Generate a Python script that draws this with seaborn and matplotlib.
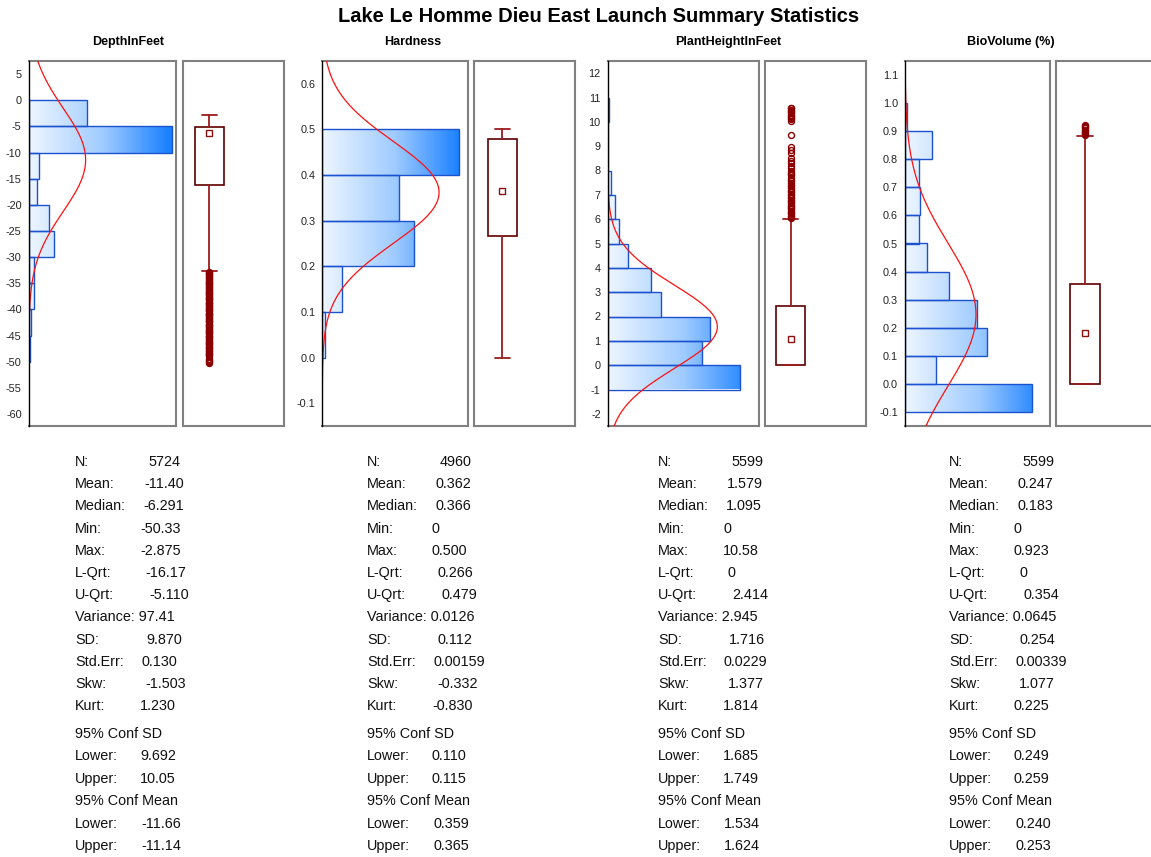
import numpy as np
import pandas as pd
import matplotlib
matplotlib.use("Agg")
import matplotlib.pyplot as plt
from matplotlib.colors import LinearSegmentedColormap
import seaborn as sns

sns.set_theme(style="white")
plt.rcParams["font.family"] = ["Liberation Sans", "DejaVu Sans"]
plt.rcParams["axes.unicode_minus"] = False
plt.rcParams["text.color"] = "black"

TITLE = "Lake Le Homme Dieu East Launch Summary Statistics"
variables = ["DepthInFeet", "Hardness", "PlantHeightInFeet", "BioVolume (%)"]

# ---- histogram bins (edges bottom -> top) and counts per bin ----
depth_edges = [-50, -45, -40, -35, -30, -25, -20, -15, -10, -5, 0]
depth_counts = [28, 54, 108, 115, 522, 420, 177, 210, 2910, 1180]

hard_edges = [0.0, 0.1, 0.2, 0.3, 0.4, 0.5]
hard_counts = [48, 297, 1385, 1165, 2065]

plant_edges = [-1, 0, 1, 2, 3, 4, 5, 6, 7, 8, 9, 10, 11]
plant_counts = [1566, 1116, 1219, 629, 519, 245, 139, 91, 44, 6, 2, 21]

bio_edges = [-0.1, 0.0, 0.1, 0.2, 0.3, 0.4, 0.5, 0.6, 0.7, 0.8, 0.9, 1.0]
bio_counts = [1575, 390, 1022, 894, 547, 277, 179, 180, 175, 335, 25]

# ---- summary statistics as printed ----
stat_labels = ["N:", "Mean:", "Median:", "Min:", "Max:", "L-Qrt:", "U-Qrt:",
               "Variance:", "SD:", "Std.Err:", "Skw:", "Kurt:"]
ci_sd_labels = ["Lower:", "Upper:"]
ci_mean_labels = ["Lower:", "Upper:"]

depth_stats = ["5724", "-11.40", "-6.291", "-50.33", "-2.875", "-16.17", "-5.110",
               "97.41", "9.870", "0.130", "-1.503", "1.230"]
hard_stats = ["4960", "0.362", "0.366", "0", "0.500", "0.266", "0.479",
              "0.0126", "0.112", "0.00159", "-0.332", "-0.830"]
plant_stats = ["5599", "1.579", "1.095", "0", "10.58", "0", "2.414",
               "2.945", "1.716", "0.0229", "1.377", "1.814"]
bio_stats = ["5599", "0.247", "0.183", "0", "0.923", "0", "0.354",
             "0.0645", "0.254", "0.00339", "1.077", "0.225"]

depth_ci_sd = ["9.692", "10.05"]
hard_ci_sd = ["0.110", "0.115"]
plant_ci_sd = ["1.685", "1.749"]
bio_ci_sd = ["0.249", "0.259"]

depth_ci_mean = ["-11.66", "-11.14"]
hard_ci_mean = ["0.359", "0.365"]
plant_ci_mean = ["1.534", "1.624"]
bio_ci_mean = ["0.240", "0.253"]

# ---- whisker ends and outlying observations ----
depth_whiskers = [-32.7, -2.875]
hard_whiskers = [0.0, 0.5]
plant_whiskers = [0.0, 6.0]
bio_whiskers = [0.0, 0.884]

depth_outliers = [-32.8, -33.0, -33.1, -33.3, -33.5, -33.6, -33.8, -34.0, -34.2, -34.3,
                  -34.5, -34.7, -34.9, -35.0, -35.2, -35.4, -35.5, -35.7, -35.9, -36.1,
                  -36.2, -36.4, -36.6, -36.8, -36.9, -37.1, -37.3, -37.4, -37.6, -37.8,
                  -38.0, -38.1, -38.3, -38.5, -38.7, -38.8, -39.0, -39.2, -39.4, -39.5,
                  -39.7, -39.9, -40.1, -40.2, -40.4, -40.6, -40.8, -40.9, -41.1, -41.3,
                  -41.5, -41.6, -41.8, -42.0, -42.2, -42.3, -42.5, -42.7, -42.9, -43.0,
                  -43.2, -43.4, -43.6, -43.7, -43.9, -44.1, -44.3, -44.4, -44.6, -44.8,
                  -45.0, -45.1, -45.3, -45.5, -45.7, -45.8, -46.0, -46.2, -46.4, -46.5,
                  -46.7, -46.9, -47.1, -47.2, -47.4, -47.6, -47.8, -47.9, -48.1, -48.3,
                  -48.5, -48.6, -48.8, -49.0, -49.5, -49.7, -49.9, -50.1, -50.33]
hard_outliers = []
plant_outliers = [6.05, 6.1, 6.15, 6.2, 6.25, 6.3, 6.35, 6.4, 6.45, 6.5, 6.55, 6.6, 6.65,
                  6.7, 6.75, 6.8, 6.85, 6.9, 7.0, 7.05, 7.1, 7.15, 7.2, 7.3, 7.35, 7.4,
                  7.5, 7.55, 7.6, 7.7, 7.8, 7.85, 7.9, 8.0, 8.1, 8.2, 8.3, 8.4, 8.5,
                  8.7, 8.85, 8.95, 9.45,
                  10.05, 10.1, 10.15, 10.2, 10.25, 10.3, 10.35, 10.4, 10.45, 10.5, 10.55, 10.58]
bio_outliers = [0.886, 0.89, 0.894, 0.898, 0.902, 0.906, 0.91, 0.914, 0.918, 0.923]

# ---- axis ranges / ticks ----
y_limits = [(-62.3, 7.5), (-0.15, 0.65), (-2.5, 12.5), (-0.15, 1.15)]
x_limits = [3000, 2200, 1800, 1800]
y_ticks = [list(range(-60, 6, 5)),
           [-0.1, 0.0, 0.1, 0.2, 0.3, 0.4, 0.5, 0.6],
           list(range(-2, 13)),
           [-0.1, 0.0, 0.1, 0.2, 0.3, 0.4, 0.5, 0.6, 0.7, 0.8, 0.9, 1.0, 1.1]]
tick_fmt = ["{:.0f}", "{:.1f}", "{:.0f}", "{:.1f}"]

edges_all = [depth_edges, hard_edges, plant_edges, bio_edges]
counts_all = [depth_counts, hard_counts, plant_counts, bio_counts]
stats_all = [depth_stats, hard_stats, plant_stats, bio_stats]
ci_sd_all = [depth_ci_sd, hard_ci_sd, plant_ci_sd, bio_ci_sd]
ci_mean_all = [depth_ci_mean, hard_ci_mean, plant_ci_mean, bio_ci_mean]
whiskers_all = [depth_whiskers, hard_whiskers, plant_whiskers, bio_whiskers]
outliers_all = [depth_outliers, hard_outliers, plant_outliers, bio_outliers]

# ---- layout (pixels) ----
W, H = 1151, 857
AX_TOP, AX_BOT = 61, 426
hist_x = [(28.7, 176.3), (322.3, 467.7), (607.7, 759.3), (905.0, 1050.3)]
box_x = [(183.0, 284.0), (474.0, 575.0), (765.3, 866.3), (1055.7, 1156.7)]
box_pos = [0.26, 0.28, 0.25, 0.29]
subtitle_x = [128.5, 412.5, 728.5, 1010.5]
label_x = [75, 367, 658, 949]
value_off = [73, 69, 68, 65, 65, 70, 74, None, 71, 66, 70, 65]

BLUE_EDGE = "#1b52cf"
CURVE = "#ff1010"
BOX_DARK = "#5e0000"
BOX_RED = "#9c1c1c"
SPINE = "#808080"
FS = 10.4
TXT = "#111111"

grad_cmap = LinearSegmentedColormap.from_list("bluefade", ["#eef6ff", "#9fcbff", "#0a78ff"])
gradient = np.linspace(0, 1, 256).reshape(1, -1)


def axes_rect(x0, x1):
    return [x0 / W, 1 - AX_BOT / H, (x1 - x0) / W, (AX_BOT - AX_TOP) / H]


def fx(x):
    return x / W


def fy(y):
    return 1 - y / H


def put(x, y, s, **kw):
    fig.text(fx(x), fy(y), s, ha="left", va="center", fontsize=FS, color=TXT, **kw)


fig = plt.figure(figsize=(W / 100, H / 100), dpi=100)
fig.patch.set_facecolor("white")

fig.text(fx(598.5), fy(17), TITLE, ha="center", va="center",
         fontsize=14.5, fontweight="bold", color="black")

for i, name in enumerate(variables):
    edges = [float(e) for e in edges_all[i]]
    counts = [float(c) for c in counts_all[i]]
    centers = [(a + b) / 2 for a, b in zip(edges[:-1], edges[1:])]
    bins_df = pd.DataFrame({"value": centers, "count": counts})
    stats = stats_all[i]
    n_obs = float(stats[0])
    mean = float(stats[1])
    median = float(stats[2])
    q1 = float(stats[5])
    q3 = float(stats[6])
    sd = float(stats[8])
    ylo, yhi = y_limits[i]
    xmax = x_limits[i]

    # histogram of bin counts, horizontal bars
    axh = fig.add_axes(axes_rect(*hist_x[i]))
    sns.histplot(data=bins_df, y="value", weights="count", bins=edges, ax=axh,
                 stat="count", edgecolor=BLUE_EDGE, linewidth=1.0, color="#66aaff")
    bars = list(axh.patches)
    for p in bars:
        p.set_facecolor("none")
        p.set_alpha(None)
        p.set_edgecolor(BLUE_EDGE)
        p.set_zorder(3)
        im = axh.imshow(gradient, cmap=grad_cmap, extent=(0, xmax, ylo, yhi),
                        aspect="auto", origin="lower", interpolation="bilinear", zorder=2)
        im.set_clip_path(p)

    # fitted normal curve scaled to counts
    bw = edges[1] - edges[0]
    yy = np.linspace(ylo, yhi, 600)
    pdf = np.exp(-0.5 * ((yy - mean) / sd) ** 2) / (sd * np.sqrt(2 * np.pi))
    axh.plot(n_obs * bw * pdf, yy, color=CURVE, linewidth=0.9, zorder=4)

    axh.set_xlim(0, xmax)
    axh.set_ylim(ylo, yhi)
    axh.set_xticks([])
    axh.set_yticks(y_ticks[i])
    axh.set_yticklabels([tick_fmt[i].format(t) for t in y_ticks[i]])
    axh.tick_params(axis="y", length=0, pad=5, labelsize=7.8, labelcolor="#222222")
    axh.set_xlabel("")
    axh.set_ylabel("")
    for side in ["top", "right", "bottom"]:
        axh.spines[side].set_color(SPINE)
        axh.spines[side].set_linewidth(1.5)
    axh.spines["left"].set_color("black")
    axh.spines["left"].set_linewidth(1.0)
    axh.spines["left"].set_zorder(5)

    # box plot from the printed quartiles
    axb = fig.add_axes(axes_rect(*box_x[i]))
    box_stats = [dict(med=median, q1=q1, q3=q3,
                      whislo=whiskers_all[i][0], whishi=whiskers_all[i][1],
                      fliers=np.asarray(outliers_all[i], dtype=float))]
    axb.bxp(box_stats, positions=[box_pos[i]], widths=0.29, capwidths=0.15,
            showfliers=True, patch_artist=True, manage_ticks=False,
            boxprops=dict(facecolor="white", edgecolor=BOX_DARK, linewidth=1.2),
            whiskerprops=dict(color=BOX_RED, linewidth=1.3),
            capprops=dict(color=BOX_RED, linewidth=1.3),
            medianprops=dict(linewidth=0),
            flierprops=dict(marker="o", markersize=4.3, markerfacecolor="none",
                            markeredgecolor="#8b0000", markeredgewidth=1.0))
    axb.plot([box_pos[i]], [median], marker="s", markersize=4.5,
             markerfacecolor="white", markeredgecolor="#8b1010", markeredgewidth=1.0,
             linestyle="none", zorder=5)
    axb.set_xlim(0, 1)
    axb.set_ylim(ylo, yhi)
    axb.set_xticks([])
    axb.set_yticks([])
    for side in ["top", "right", "bottom", "left"]:
        axb.spines[side].set_color(SPINE)
        axb.spines[side].set_linewidth(1.5)

    # variable heading
    fig.text(fx(subtitle_x[i]), fy(42), name, ha="center", va="center",
             fontsize=9, fontweight="bold", color="black")

    # statistics table
    lx = label_x[i]
    for r, lab in enumerate(stat_labels):
        ry = 462 + r * 22.2
        if value_off[r] is None:
            put(lx, ry, f"{lab} {stats[r]}")
        else:
            put(lx, ry, lab)
            put(lx + value_off[r], ry, stats[r])
    put(lx, 734, "95% Conf SD")
    for k, lab in enumerate(ci_sd_labels):
        ry = 756.5 + k * 22.3
        put(lx, ry, lab)
        put(lx + 65, ry, ci_sd_all[i][k])
    put(lx, 801, "95% Conf Mean")
    for k, lab in enumerate(ci_mean_labels):
        ry = 823.5 + k * 22.2
        put(lx, ry, lab)
        put(lx + 66, ry, ci_mean_all[i][k])

fig.savefig("out.png", dpi=100, facecolor="white")
